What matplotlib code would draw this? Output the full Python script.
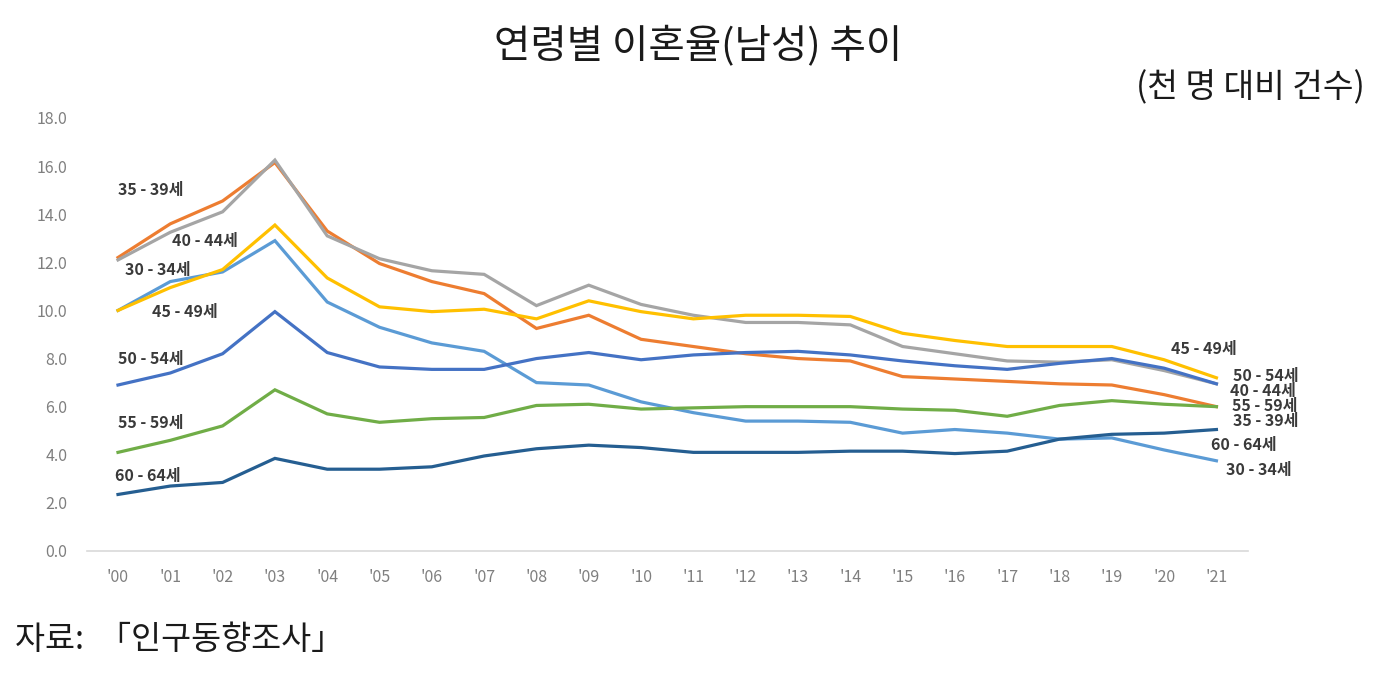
import matplotlib.pyplot as plt

plt.rcParams['font.family'] = ['Noto Sans CJK KR', 'DejaVu Sans']

years = ["'00", "'01", "'02", "'03", "'04", "'05", "'06", "'07", "'08", "'09", "'10",
         "'11", "'12", "'13", "'14", "'15", "'16", "'17", "'18", "'19", "'20", "'21"]

age_30_34 = [10.0, 11.2, 11.6, 12.9, 10.35, 9.3, 8.65, 8.3, 7.0, 6.9, 6.2,
             5.75, 5.4, 5.4, 5.35, 4.9, 5.05, 4.9, 4.65, 4.7, 4.2, 3.75]
age_35_39 = [12.2, 13.6, 14.55, 16.15, 13.3, 11.95, 11.2, 10.7, 9.25, 9.8, 8.8,
             8.5, 8.2, 8.0, 7.9, 7.25, 7.15, 7.05, 6.95, 6.9, 6.5, 6.0]
age_40_44 = [12.1, 13.25, 14.1, 16.25, 13.1, 12.15, 11.65, 11.5, 10.2, 11.05, 10.25,
             9.8, 9.5, 9.5, 9.4, 8.5, 8.2, 7.9, 7.85, 7.95, 7.5, 6.95]
age_45_49 = [10.0, 10.95, 11.7, 13.55, 11.35, 10.15, 9.95, 10.05, 9.65, 10.4, 9.95,
             9.65, 9.8, 9.8, 9.75, 9.05, 8.75, 8.5, 8.5, 8.5, 7.95, 7.2]
age_50_54 = [6.9, 7.4, 8.2, 9.95, 8.25, 7.65, 7.55, 7.55, 8.0, 8.25, 7.95,
             8.15, 8.25, 8.3, 8.15, 7.9, 7.7, 7.55, 7.8, 8.0, 7.6, 6.95]
age_55_59 = [4.1, 4.6, 5.2, 6.7, 5.7, 5.35, 5.5, 5.55, 6.05, 6.1, 5.9,
             5.95, 6.0, 6.0, 6.0, 5.9, 5.85, 5.6, 6.05, 6.25, 6.1, 6.0]
age_60_64 = [2.35, 2.7, 2.85, 3.85, 3.4, 3.4, 3.5, 3.95, 4.25, 4.4, 4.3,
             4.1, 4.1, 4.1, 4.15, 4.15, 4.05, 4.15, 4.65, 4.85, 4.9, 5.05]

series = [
    ("30 - 34세", age_30_34, "#5B9BD5"),
    ("35 - 39세", age_35_39, "#ED7D31"),
    ("40 - 44세", age_40_44, "#A5A5A5"),
    ("45 - 49세", age_45_49, "#FFC000"),
    ("50 - 54세", age_50_54, "#4472C4"),
    ("55 - 59세", age_55_59, "#70AD47"),
    ("60 - 64세", age_60_64, "#255E91"),
]

# label positions (x index, y value) at the left and right ends
left_pos = {"30 - 34세": (0.13, 11.7), "35 - 39세": (0.0, 15.0), "40 - 44세": (1.03, 12.9),
            "45 - 49세": (0.65, 9.95), "50 - 54세": (0.0, 8.0), "55 - 59세": (0.0, 5.3),
            "60 - 64세": (-0.05, 3.1)}
right_pos = {"30 - 34세": (21.19, 3.37), "35 - 39세": (21.31, 5.4), "40 - 44세": (21.25, 6.65),
             "45 - 49세": (20.14, 8.4), "50 - 54세": (21.31, 7.27), "55 - 59세": (21.29, 6.03),
             "60 - 64세": (20.9, 4.41)}

fig = plt.figure(figsize=(13.88, 6.86), dpi=100)
ax = fig.add_axes([0.0624, 0.1968, 0.8366, 0.6312])

x = list(range(len(years)))
for name, vals, col in series:
    ax.plot(x, vals, color=col, lw=2.3, solid_joinstyle='miter')

lab_kw = dict(fontsize=11.5, color='#3a3a3a', va='center', ha='left', fontweight='bold')
for name, vals, col in series:
    lx, ly = left_pos[name]
    ax.text(lx, ly, name, **lab_kw)
    rx, ry = right_pos[name]
    ax.text(rx, ry, name, **lab_kw)

ax.set_xlim(-0.6, 21.6)
ax.set_ylim(0, 18)
ax.set_yticks([0, 2, 4, 6, 8, 10, 12, 14, 16, 18])
ax.set_yticklabels([f"{v:.1f}" for v in ax.get_yticks()])
ax.set_xticks(x)
ax.set_xticklabels(years)
ax.tick_params(length=0, labelsize=11.5, labelcolor='#7f7f7f')
for t in ax.get_xticklabels() + ax.get_yticklabels():
    t.set_fontweight('medium')
ax.tick_params(axis='y', pad=14)
ax.tick_params(axis='x', pad=13)
for s in ['top', 'right', 'left']:
    ax.spines[s].set_visible(False)
ax.spines['bottom'].set_color('#D9D9D9')
ax.spines['bottom'].set_linewidth(1.2)

fig.text(0.503, 0.934, "연령별 이혼율(남성) 추이", ha='center', va='center', fontsize=28.5, color='#1a1a1a')
fig.text(0.983, 0.872, "(천 명 대비 건수)", ha='right', va='center', fontsize=24, color='#1a1a1a')
fig.text(0.011, 0.067, "자료:  「인구동향조사」", ha='left', va='center', fontsize=23.5, color='#1a1a1a')

fig.savefig('out.png', dpi=100, facecolor='white')
